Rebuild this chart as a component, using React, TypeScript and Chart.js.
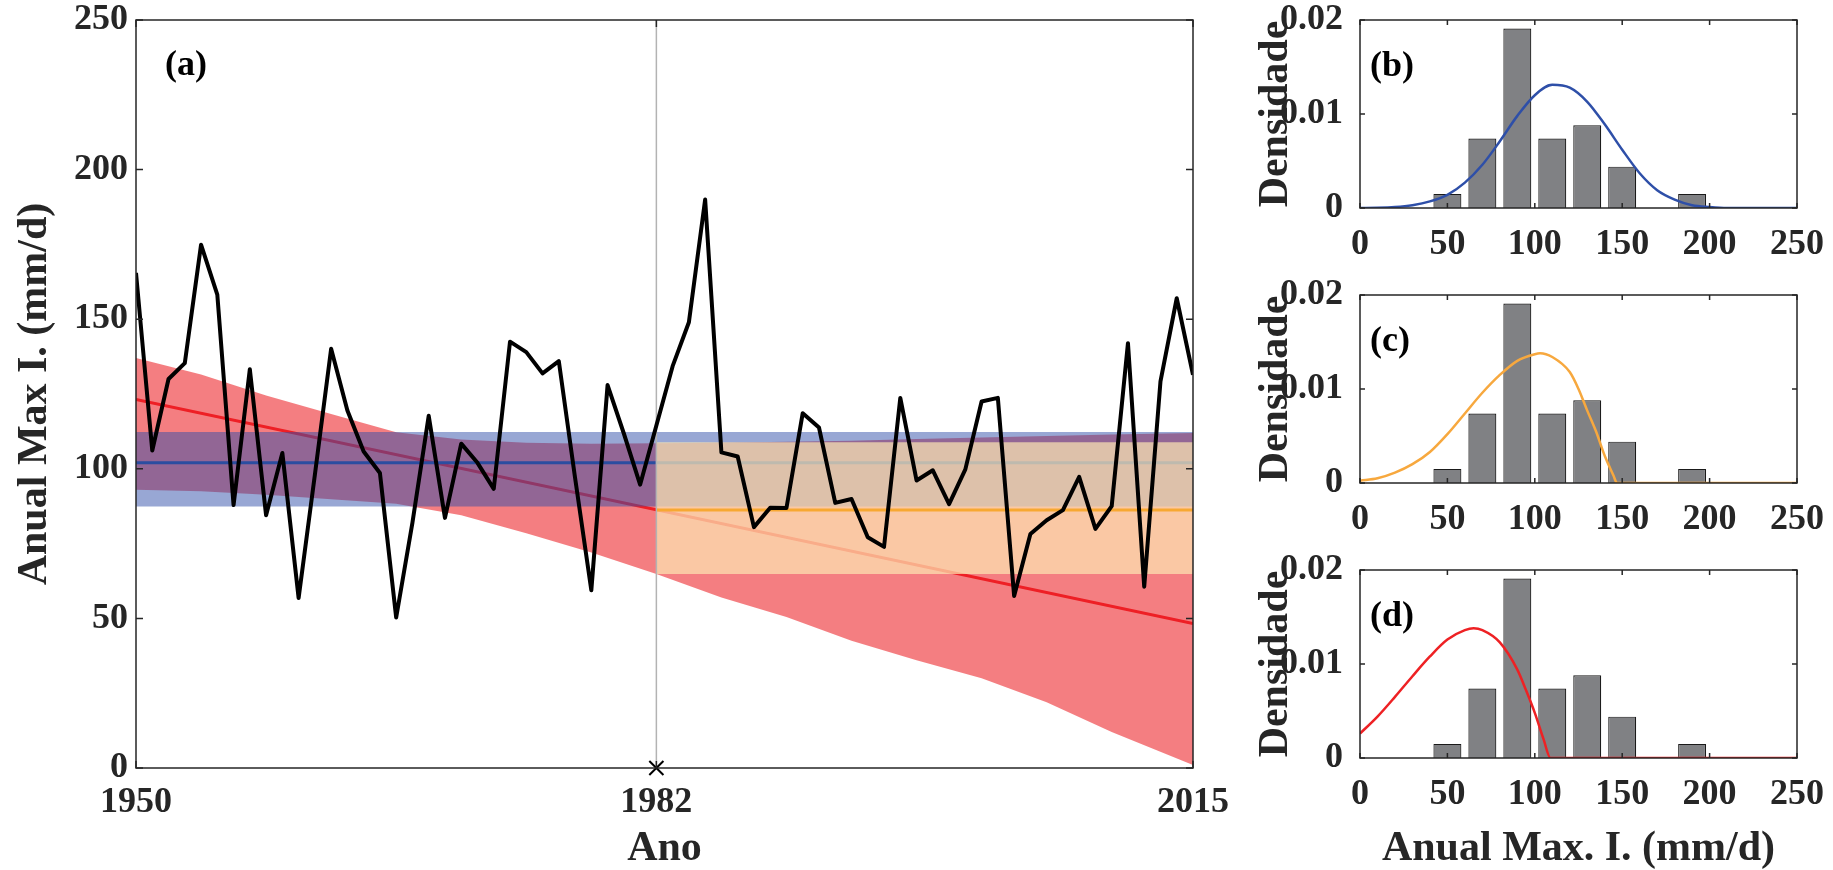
import React, { useEffect, useRef } from 'react';
import { Chart, registerables } from 'chart.js';
Chart.register(...registerables);

// ---------- data: panel (a) ----------
const years = [1950,1951,1952,1953,1954,1955,1956,1957,1958,1959,1960,1961,1962,1963,1964,1965,1966,1967,1968,1969,1970,1971,1972,1973,1974,1975,1976,1977,1978,1979,1980,1981,1982,1983,1984,1985,1986,1987,1988,1989,1990,1991,1992,1993,1994,1995,1996,1997,1998,1999,2000,2001,2002,2003,2004,2005,2006,2007,2008,2009,2010,2011,2012,2013,2014,2015];
const annualMax = [165.5,106.1,130,135.3,174.9,158.2,87.9,133.3,84.5,105.3,56.8,98,140.1,119.5,105.8,98.6,50.3,82,117.7,83.6,108.4,102,93.3,142.5,139,131.9,136,97,59.4,128,111.8,94.7,114.5,134.3,149,190,105.5,104.1,80.5,87,86.9,118.6,113.8,88.6,89.9,77.1,73.9,123.7,96.1,99.5,88.2,99.8,122.5,123.7,57.5,78.2,82.8,86.2,97.3,79.9,87.5,142,60.6,129.2,157,131.4];

const blueYears = [1950, 2015];
const blueMean = [102, 102];
const blueUpper = [112.3, 112.3];
const blueLower = [87.4, 87.4];

const orangeYears = [1982, 2015];
const orangeMean = [86.2, 86.2];
const orangeUpper = [108.9, 108.9];
const orangeLower = [64.8, 64.8];

const redTrendYears = [1950, 2015];
const redTrend = [123.2, 48.3];
const redBandYears = [1950,1954,1958,1962,1966,1970,1974,1978,1982,1986,1990,1994,1998,2002,2006,2010,2015];
const redUpper = [137,131.5,124.5,118.3,112.2,109.8,108.7,108.4,108.5,108.7,109,109.4,110,110.5,111,111.5,112];
const redLower = [93,92.5,91.3,89.8,88.3,84.5,78.5,72,64.8,57,50.5,42.5,36,30,22,12,1];

const changeYear = [1982, 1982];
const changeLineY = [0, 250];

const xTickYears = [1950, 1982, 2015];
const yTicksMain = [0, 50, 100, 150, 200, 250];
const yTickLabelsMain = ['0', '50', '100', '150', '200', '250'];

// ---------- data: panels (b)-(d) ----------
const binCenters = [50, 70, 90, 110, 130, 150, 170, 190];
const density = [0.0015, 0.0074, 0.0191, 0.0074, 0.0088, 0.0044, 0, 0.0015];

const pdfBX = [0,10,20,30,40,50,60,70,80,90,100,110,120,130,140,150,160,170,180,190,200,210,220,230,240,250];
const pdfB = [0,0.00002,0.0001,0.0003,0.0007,0.0014,0.0027,0.0046,0.0071,0.0098,0.0120,0.0131,0.0128,0.0113,0.0089,0.0062,0.0037,0.0019,0.0009,0.0003,0.0001,0,0,0,0,0];

const pdfCX = [0,10,20,30,40,50,60,70,80,90,100,103,110,120,125,130,135,140,145,147,160,180,200,220,250];
const pdfC = [0.00025,0.0005,0.0011,0.0020,0.0033,0.0052,0.0074,0.0096,0.0115,0.0130,0.0137,0.0138,0.0134,0.0118,0.0100,0.0077,0.0055,0.0029,0.0008,0,0,0,0,0,0];

const pdfDX = [0,10,20,30,40,50,60,65,70,80,90,95,100,105,109,120,150,200,250];
const pdfD = [0.0026,0.0044,0.0065,0.0087,0.0108,0.0126,0.0136,0.0138,0.0136,0.0123,0.0094,0.0072,0.0048,0.0020,0,0,0,0,0];

const xTicksPanel = [0, 50, 100, 150, 200, 250];
const xTickLabelsPanel = ['0', '50', '100', '150', '200', '250'];
const yTicksPanel = [0, 0.01, 0.02];
const yTickLabelsPanel = ['0', '0.01', '0.02'];

// ---------- styles ----------
const FONT = 'Liberation Serif';
const TXT = '#262626';

const pts = (xs: number[], ys: number[]) => xs.map((x, i) => ({ x, y: ys[i] }));

function framePlugin(label: string, dx: number, dy: number, tickLen: number) {
  return {
    id: 'frame_' + label,
    afterDatasetsDraw(chart: any) {
      const { ctx, chartArea: a, scales } = chart;
      ctx.save();
      ctx.strokeStyle = TXT;
      ctx.lineWidth = 1.5;
      ctx.strokeRect(a.left, a.top, a.right - a.left, a.bottom - a.top);
      ctx.beginPath();
      scales.x.ticks.forEach((t: any) => {
        const px = scales.x.getPixelForValue(t.value);
        ctx.moveTo(px, a.bottom); ctx.lineTo(px, a.bottom - tickLen);
        ctx.moveTo(px, a.top); ctx.lineTo(px, a.top + tickLen);
      });
      scales.y.ticks.forEach((t: any) => {
        const py = scales.y.getPixelForValue(t.value);
        ctx.moveTo(a.left, py); ctx.lineTo(a.left + tickLen, py);
        ctx.moveTo(a.right, py); ctx.lineTo(a.right - tickLen, py);
      });
      ctx.stroke();
      ctx.fillStyle = '#000';
      ctx.font = `bold 36px "${FONT}"`;
      ctx.textBaseline = 'middle';
      ctx.textAlign = 'left';
      ctx.fillText(label, a.left + dx, a.top + dy);
      ctx.restore();
    },
  };
}

const tickFont = { family: FONT, size: 36, weight: 'bold' as const, lineHeight: 1 };
const titleFont = { family: FONT, size: 42, weight: 'bold' as const, lineHeight: 1 };

function mainConfig(): any {
  const line = (data: any, color: string, width: number, order: number, extra: any = {}) => ({
    type: 'line', data, borderColor: color, borderWidth: width, pointRadius: 0, fill: false, order, ...extra,
  });
  return {
    type: 'line',
    data: {
      datasets: [
        line(pts(years, annualMax), '#000000', 4, 0, { borderJoinStyle: 'round' }),
        { type: 'scatter', data: [{ x: changeYear[0], y: changeLineY[0] }], pointStyle: 'crossRot', pointRadius: 10,
          borderColor: '#000', borderWidth: 2, backgroundColor: '#000', order: -1, clip: false },
        line(pts(changeYear, changeLineY), '#b3b3b3', 1.5, 1),
        line(pts(orangeYears, orangeMean), '#f7a832', 3, 2),
        line(pts(orangeYears, orangeUpper), 'rgba(0,0,0,0)', 0, 3, { fill: '+1', backgroundColor: 'rgba(254,232,180,0.7)' }),
        line(pts(orangeYears, orangeLower), 'rgba(0,0,0,0)', 0, 3),
        line(pts(blueYears, blueMean), '#2b4da0', 3, 4),
        line(pts(blueYears, blueUpper), 'rgba(0,0,0,0)', 0, 5, { fill: '+1', backgroundColor: 'rgba(50,80,170,0.5)' }),
        line(pts(blueYears, blueLower), 'rgba(0,0,0,0)', 0, 5),
        line(pts(redTrendYears, redTrend), '#ee1f25', 3, 6),
        line(pts(redBandYears, redUpper), 'rgba(0,0,0,0)', 0, 7, { fill: '+1', backgroundColor: 'rgba(235,20,25,0.55)' }),
        line(pts(redBandYears, redLower), 'rgba(0,0,0,0)', 0, 7),
      ],
    },
    options: {
      responsive: false,
      animation: false,
      layout: { padding: { left: 0, top: 20, right: 47, bottom: 0 } },
      plugins: { legend: { display: false }, tooltip: { enabled: false } },
      scales: {
        x: {
          type: 'linear', min: 1950, max: 2015,
          grid: { display: false, drawTicks: false }, border: { display: false },
          afterBuildTicks: (s: any) => { s.ticks = xTickYears.map((v) => ({ value: v })); },
          afterFit: (s: any) => { s.height = 102; s.paddingLeft = 0; s.paddingRight = 0; },
          ticks: { font: tickFont, color: TXT, padding: 17, maxRotation: 0, autoSkip: false,
            callback: (v: any) => String(v) },
          title: { display: true, text: 'Ano', font: titleFont, color: TXT, padding: { top: 0, bottom: 0 } },
        },
        y: {
          type: 'linear', min: 0, max: 250,
          grid: { display: false, drawTicks: false }, border: { display: false },
          afterBuildTicks: (s: any) => { s.ticks = yTicksMain.map((v) => ({ value: v })); },
          afterFit: (s: any) => { s.width = 136; s.paddingTop = 0; s.paddingBottom = 0; },
          ticks: { font: tickFont, color: TXT, padding: 8, autoSkip: false,
            callback: (_v: any, i: number) => yTickLabelsMain[i] },
          title: { display: true, text: 'Anual Max I. (mm/d)', font: titleFont, color: TXT, padding: { top: 14, bottom: 0 } },
        },
      },
    },
    plugins: [framePlugin('(a)', 29, 46, 7)],
  };
}

function panelConfig(label: string, cx: number[], cy: number[], color: string, axisH: number, xTitle: string | null): any {
  return {
    type: 'bar',
    data: {
      datasets: [
        { type: 'line', data: pts(cx, cy), borderColor: color, borderWidth: 2.5, pointRadius: 0, fill: false,
          cubicInterpolationMode: 'monotone', order: 0 },
        { type: 'bar', data: pts(binCenters, density), backgroundColor: '#808184', borderColor: '#1a1a1a',
          borderWidth: 1.2, barPercentage: 0.8, categoryPercentage: 1, order: 1 },
      ],
    },
    options: {
      responsive: false,
      animation: false,
      layout: { padding: { left: 0, top: 20, right: 36, bottom: 0 } },
      plugins: { legend: { display: false }, tooltip: { enabled: false } },
      scales: {
        x: {
          type: 'linear', min: 0, max: 250, offset: false,
          grid: { display: false, drawTicks: false, offset: false }, border: { display: false },
          afterBuildTicks: (s: any) => { s.ticks = xTicksPanel.map((v) => ({ value: v })); },
          afterFit: (s: any) => { s.height = axisH; s.paddingLeft = 0; s.paddingRight = 0; },
          ticks: { font: tickFont, color: TXT, padding: 19, maxRotation: 0, autoSkip: false,
            callback: (_v: any, i: number) => xTickLabelsPanel[i] },
          title: { display: !!xTitle, text: xTitle || '', font: titleFont, color: TXT, padding: { top: 0, bottom: 0 } },
        },
        y: {
          type: 'linear', min: 0, max: 0.02,
          grid: { display: false, drawTicks: false }, border: { display: false },
          afterBuildTicks: (s: any) => { s.ticks = yTicksPanel.map((v) => ({ value: v })); },
          afterFit: (s: any) => { s.width = 110; s.paddingTop = 0; s.paddingBottom = 0; },
          ticks: { font: tickFont, color: TXT, padding: 17, autoSkip: false,
            callback: (_v: any, i: number) => yTickLabelsPanel[i] },
          title: { display: true, text: 'Densidade', font: titleFont, color: TXT, padding: { top: 5, bottom: 0 } },
        },
      },
    },
    plugins: [framePlugin(label, 10, 47, 5)],
  };
}

export default function App() {
  const mainRef = useRef<HTMLCanvasElement>(null);
  const bRef = useRef<HTMLCanvasElement>(null);
  const cRef = useRef<HTMLCanvasElement>(null);
  const dRef = useRef<HTMLCanvasElement>(null);

  useEffect(() => {
    Chart.defaults.font.family = FONT;
    Chart.defaults.color = TXT;
    const charts = [
      new Chart(mainRef.current as HTMLCanvasElement, mainConfig()),
      new Chart(bRef.current as HTMLCanvasElement, panelConfig('(b)', pdfBX, pdfB, '#2e4fa8', 72, null)),
      new Chart(cRef.current as HTMLCanvasElement, panelConfig('(c)', pdfCX, pdfC, '#f7a83e', 72, null)),
      new Chart(dRef.current as HTMLCanvasElement, panelConfig('(d)', pdfDX, pdfD, '#ee2124', 112, 'Anual Max. I. (mm/d)')),
    ];
    return () => charts.forEach((c) => c.destroy());
  }, []);

  const abs = (left: number, top: number): React.CSSProperties => ({ position: 'absolute', left, top });
  return (
    <div style={{ position: 'absolute', left: 0, top: 0, width: 1833, height: 870, background: '#fff', overflow: 'hidden' }}>
      <canvas ref={mainRef} width={1240} height={870} style={abs(0, 0)} />
      <canvas ref={bRef} width={583} height={280} style={abs(1250, 0)} />
      <canvas ref={cRef} width={583} height={280} style={abs(1250, 275)} />
      <canvas ref={dRef} width={583} height={320} style={abs(1250, 550)} />
    </div>
  );
}
